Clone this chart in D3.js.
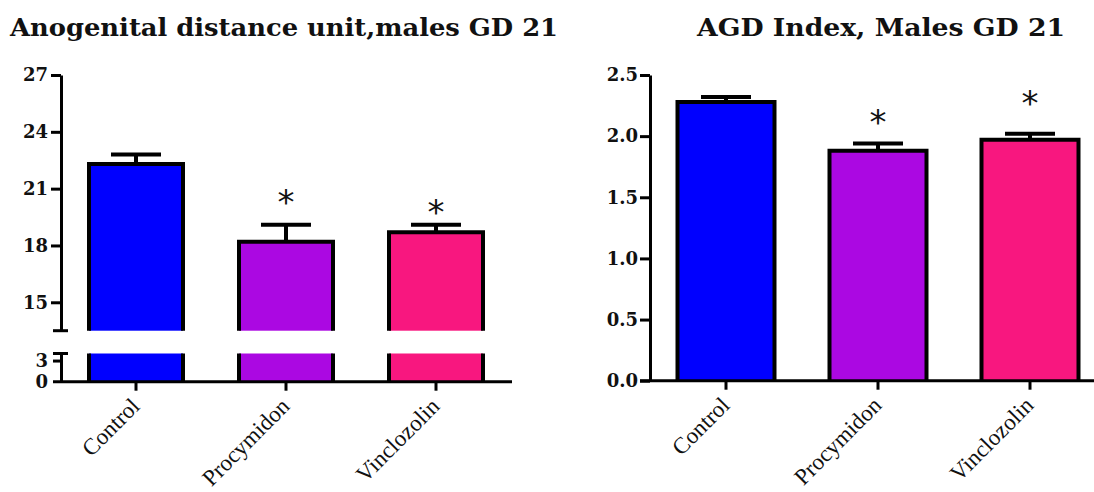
<!DOCTYPE html>
<html>
<head>
<meta charset="utf-8">
<script src="https://cdn.jsdelivr.net/npm/d3@7"></script>
<style>
  html, body { margin: 0; padding: 0; background: #fff; }
  svg { display: block; }
</style>
</head>
<body>
<svg id="chart" width="1094" height="492"></svg>
<script>
// ---------- data ----------
const categories = ["Control", "Procymidon", "Vinclozolin"];
const barColors = ["#0000FF", "#AB08E2", "#F8177F"];

const agdMeans = [22.3, 18.2, 18.7];
const agdSem   = [0.5, 0.9, 0.4];
const agdStarAt = [null, 20.66, 20.16];   // asterisk location (data units)
const agdUpperTicks = [15, 18, 21, 24, 27];
const agdLowerTicks = [0, 3];

const idxMeans = [2.28, 1.88, 1.97];
const idxSem   = [0.04, 0.06, 0.05];
const idxStarAt = [null, 2.17, 2.33];
const idxTicks = [0.0, 0.5, 1.0, 1.5, 2.0, 2.5];

const titles = ["Anogenital distance unit,males GD 21", "AGD Index, Males GD 21"];

// ---------- drawing ----------
const svg = d3.select("#chart");
const tickFont = "'DejaVu Serif', serif";
const titleFont = "'DejaVu Serif Condensed', 'DejaVu Serif', serif";
const labelFont = "'Liberation Serif', 'Times New Roman', serif";
const starFont = "'DejaVu Sans', sans-serif";

function fitTitle(text, cx, y, targetW) {
  svg.append("text")
    .attr("x", cx).attr("y", y)
    .attr("text-anchor", "middle")
    .attr("font-family", titleFont)
    .style("font-stretch", "condensed")
    .attr("font-weight", "bold")
    .attr("font-size", 25)
    .attr("textLength", targetW)
    .attr("lengthAdjust", "spacingAndGlyphs")
    .attr("fill", "#111")
    .text(text);
}

function styleAxis(g, size) {
  g.select(".domain").attr("stroke", "#000").attr("stroke-width", 3);
  g.selectAll(".tick line").attr("stroke", "#000").attr("stroke-width", 3);
  g.selectAll(".tick text")
    .attr("font-family", tickFont)
    .attr("font-weight", "bold")
    .attr("font-size", size || 18)
    .attr("fill", "#111");
}

function drawBars(x, yTop, yBottomPix, means, bw) {
  svg.append("g").selectAll("rect")
    .data(means).join("rect")
    .attr("x", (d, i) => x(categories[i]) - bw / 2)
    .attr("y", d => yTop(d))
    .attr("width", bw)
    .attr("height", d => yBottomPix - yTop(d))
    .attr("fill", (d, i) => barColors[i]);
  svg.append("g").selectAll("path")
    .data(means).join("path")
    .attr("d", (d, i) => {
      const l = x(categories[i]) - bw / 2, r = l + bw, t = yTop(d);
      return `M${l},${yBottomPix}V${t}H${r}V${yBottomPix}`;
    })
    .attr("fill", "none")
    .attr("stroke", "#000")
    .attr("stroke-width", 4)
    .attr("stroke-linejoin", "miter");
}

function drawErrors(x, y, means, sem, capW) {
  const g = svg.append("g");
  g.selectAll("line.v").data(means).join("line")
    .attr("x1", (d, i) => x(categories[i])).attr("x2", (d, i) => x(categories[i]))
    .attr("y1", d => y(d)).attr("y2", (d, i) => y(d + sem[i]))
    .attr("stroke", "#000").attr("stroke-width", 4);
  g.selectAll("line.c").data(means).join("line")
    .attr("x1", (d, i) => x(categories[i]) - capW / 2)
    .attr("x2", (d, i) => x(categories[i]) + capW / 2)
    .attr("y1", (d, i) => y(d + sem[i])).attr("y2", (d, i) => y(d + sem[i]))
    .attr("stroke", "#000").attr("stroke-width", 4);
}

function drawStars(x, y, starAt) {
  svg.append("g").selectAll("text")
    .data(starAt.map((v, i) => ({ v, i })).filter(d => d.v !== null))
    .join("text")
    .attr("x", d => x(categories[d.i]))
    .attr("y", d => y(d.v) + 19)
    .attr("text-anchor", "middle")
    .attr("font-family", starFont)
    .attr("font-size", 34)
    .attr("fill", "#111")
    .text("*");
}

function drawXAxis(x, yPix, x0, x1) {
  const g = svg.append("g").attr("transform", `translate(0,${yPix})`);
  g.append("line").attr("x1", x0).attr("x2", x1).attr("y1", 0).attr("y2", 0)
    .attr("stroke", "#000").attr("stroke-width", 3);
  g.selectAll("line.t").data(categories).join("line")
    .attr("x1", d => x(d)).attr("x2", d => x(d))
    .attr("y1", 0).attr("y2", 9)
    .attr("stroke", "#000").attr("stroke-width", 3);
  svg.append("g").selectAll("text").data(categories).join("text")
    .attr("transform", d => `translate(${x(d) + 5},${yPix + 26}) rotate(-45)`)
    .attr("text-anchor", "end")
    .attr("font-family", labelFont)
    .attr("font-size", 23)
    .attr("fill", "#111")
    .text(d => d);
}

// ===== Left panel: broken axis =====
(function () {
  const axisX = 61, baseY = 381.7;
  const x = d3.scalePoint().domain(categories).range([axisX, 511]).padding(0.5);
  const yU = d3.scaleLinear().domain([13.5, 27]).range([330.7, 75]);
  const yL = d3.scaleLinear().domain([0, 4]).range([baseY, 353.5]);
  const bw = 94;

  drawBars(x, yU, yU(13.5), agdMeans, bw);
  svg.append("g").selectAll("rect")
    .data(agdMeans).join("rect")
    .attr("x", (d, i) => x(categories[i]) - bw / 2)
    .attr("y", yL(4))
    .attr("width", bw)
    .attr("height", baseY - yL(4))
    .attr("fill", (d, i) => barColors[i]);
  svg.append("g").selectAll("path")
    .data(agdMeans).join("path")
    .attr("d", (d, i) => {
      const l = x(categories[i]) - bw / 2, r = l + bw;
      return `M${l},${yL(4)}V${baseY}M${r},${yL(4)}V${baseY}`;
    })
    .attr("stroke", "#000").attr("stroke-width", 4);

  drawErrors(x, yU, agdMeans, agdSem, 50);
  drawStars(x, yU, agdStarAt);

  const gU = svg.append("g").attr("transform", `translate(${axisX},0)`)
    .call(d3.axisLeft(yU).tickValues(agdUpperTicks).tickSize(10).tickSizeOuter(0).tickPadding(3));
  styleAxis(gU);
  const gL = svg.append("g").attr("transform", `translate(${axisX},0)`)
    .call(d3.axisLeft(yL).tickValues(agdLowerTicks).tickFormat(d3.format("d"))
      .tickSize(8).tickSizeOuter(0).tickPadding(5));
  styleAxis(gL, 18);
  gL.selectAll(".tick").filter(d => d === 0).select("line").remove();

  [yU(13.5), yL(4)].forEach(yy => {
    svg.append("line").attr("x1", axisX - 8).attr("x2", axisX + 7)
      .attr("y1", yy).attr("y2", yy)
      .attr("stroke", "#000").attr("stroke-width", 3);
  });

  drawXAxis(x, baseY, axisX - 8, 512);
  fitTitle(titles[0], 284, 36, 548);
})();

// ===== Right panel =====
(function () {
  const axisX = 650, baseY = 380.7;
  const x = d3.scalePoint().domain(categories).range([axisX, 1106]).padding(0.5);
  const y = d3.scaleLinear().domain([0, 2.5]).range([baseY, 75]);
  const bw = 97;

  drawBars(x, y, baseY, idxMeans, bw);
  drawErrors(x, y, idxMeans, idxSem, 50);
  drawStars(x, y, idxStarAt);

  const g = svg.append("g").attr("transform", `translate(${axisX},0)`)
    .call(d3.axisLeft(y).tickValues(idxTicks).tickFormat(d3.format(".1f"))
      .tickSize(10).tickSizeOuter(0).tickPadding(2));
  styleAxis(g);

  drawXAxis(x, baseY, axisX - 10, 1094);
  fitTitle(titles[1], 881, 36, 368);
})();
</script>
</body>
</html>
